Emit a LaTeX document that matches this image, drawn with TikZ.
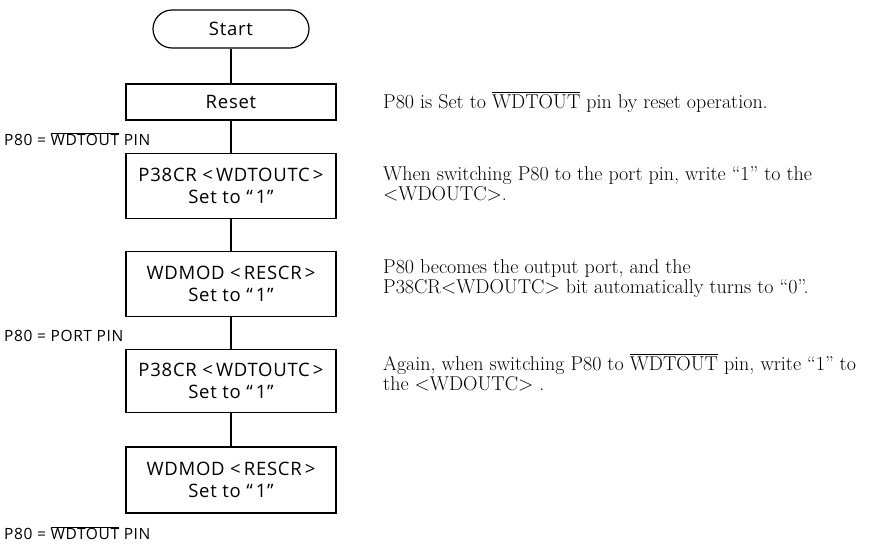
\documentclass[tikz,border=0pt]{standalone}
\usepackage{fontspec}
\setsansfont{Open Sans}[LetterSpace=4]
\usetikzlibrary{positioning}
\newcommand{\ovl}[1]{$\overline{\hbox{#1}}$}

\begin{document}
\begin{tikzpicture}[x=1pt, y=1pt, every node/.style={font=\sffamily\fontsize{18.5}{22}\selectfont}]
  \useasboundingbox (0,0) rectangle (882,-544);
  \tikzset{
    flow/.style={line width=1.2pt},
    stepbox/.style={draw, flow, minimum width=210pt, inner sep=2pt, align=center},
    pinlabel/.style={anchor=west, inner sep=0pt, font=\sffamily\fontsize{15.5}{18}\selectfont},
    note/.style={anchor=base west, inner sep=0pt, align=left,
      font=\rmfamily\fontsize{20}{20}\selectfont}
  }
  % terminal
  \node[draw, flow, rounded corners=19pt, minimum width=156pt, minimum height=38pt] (start) at (231,-29) {Start};
  % steps
  \node[stepbox, minimum height=36pt] (reset) at (231,-102) {Reset};
  \node[stepbox, minimum height=65pt] (wdtA) at (231,-186) {P38CR <\,WDTOUTC\,>\\Set to “\,1”};
  \node[stepbox, minimum height=65pt] (modA) at (231,-284) {WDMOD <\,RESCR\,>\\Set to “\,1”};
  \node[stepbox, minimum height=63pt] (wdtB) at (231,-381) {P38CR <\,WDTOUTC\,>\\Set to “\,1”};
  \node[stepbox, minimum height=66pt] (modB) at (231,-480) {WDMOD <\,RESCR\,>\\Set to “\,1”};
  % flow lines
  \draw[flow] (start) -- (reset);
  \draw[flow] (reset) -- (wdtA);
  \draw[flow] (wdtA) -- (modA);
  \draw[flow] (modA) -- (wdtB);
  \draw[flow] (wdtB) -- (modB);
  % pin states
  \node[pinlabel] (pinA) at (4,-139) {P80 = \ovl{WDTOUT} PIN};
  \node[pinlabel] (pinB) at (4,-336) {P80 = PORT PIN};
  \node[pinlabel] (pinC) at (4,-533) {P80 = \ovl{WDTOUT} PIN};
  % notes (base = last line)
  \node[note] (noteA) at (383,-108) {P80 is Set to \ovl{WDTOUT} pin by reset operation.};
  \node[note] (noteB) at (383,-200) {When switching P80 to the port pin, write “1” to the\\<WDOUTC>.};
  \node[note] (noteC) at (383,-293) {P80 becomes the output port, and the\\P38CR<WDOUTC> bit automatically turns to “0”.};
  \node[note] (noteD) at (383,-390) {Again, when switching P80 to \ovl{WDTOUT} pin, write “1” to\\the <WDOUTC> .};
\end{tikzpicture}
\end{document}
